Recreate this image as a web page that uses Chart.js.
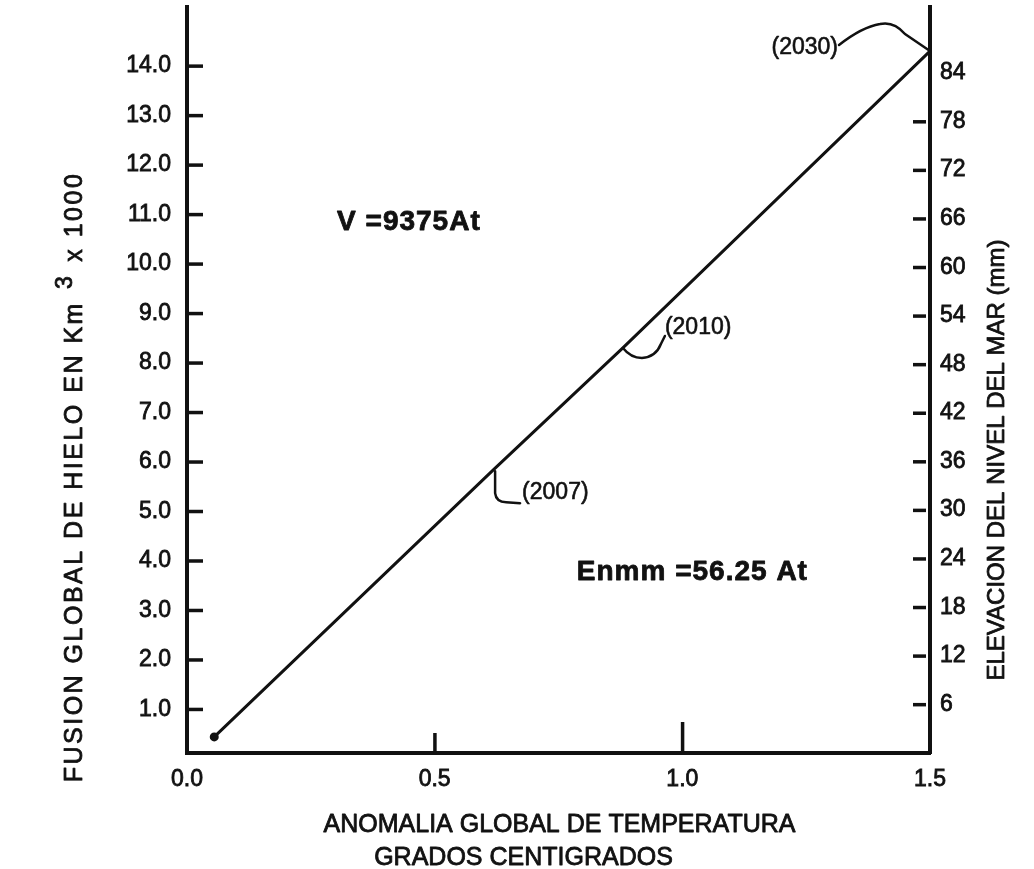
<!DOCTYPE html>
<html><head><meta charset="utf-8">
<script src="https://cdn.jsdelivr.net/npm/chart.js@4.4.1/dist/chart.umd.min.js"></script>
<style>html,body{margin:0;padding:0;background:#fff}#wrap{width:1034px;height:869px;position:relative}</style>
</head><body><div id="wrap"><canvas id="c" width="1034" height="869"></canvas></div>
<script>
// ---- data ----
const temperatureAnomaly = [0.055, 0.62, 0.88, 1.5];
const iceMelt = [0.44, 5.85, 8.3, 14.3];
const yearLabels = ['', '(2007)', '(2010)', '(2030)'];
const xTickValues = [0, 0.5, 1.0, 1.5];
const xTickLabels = ['0.0', '0.5', '1.0', '1.5'];
const leftTickValues = [1, 2, 3, 4, 5, 6, 7, 8, 9, 10, 11, 12, 13, 14];
const leftTickLabels = ['1.0', '2.0', '3.0', '4.0', '5.0', '6.0', '7.0', '8.0', '9.0', '10.0', '11.0', '12.0', '13.0', '14.0'];
const rightTickValues = [6, 12, 18, 24, 30, 36, 42, 48, 54, 60, 66, 72, 78, 84];
const rightTickLabels = ['6', '12', '18', '24', '30', '36', '42', '48', '54', '60', '66', '72', '78', '84'];
const xTitleLines = ['ANOMALIA GLOBAL DE TEMPERATURA', 'GRADOS CENTIGRADOS'];
const leftTitleParts = ['FUSION GLOBAL DE HIELO EN Km', '3', 'x 1000'];
const rightTitle = 'ELEVACION DEL NIVEL DEL MAR (mm)';
const equationVolume = 'V =9375At';
const equationLevel = 'Enmm =56.25 At';

const FONT = '"Liberation Sans", Arial, sans-serif';
const INK = '#111';

const points = temperatureAnomaly.map((t, i) => ({x: t, y: iceMelt[i]}));

function heavyText(ctx, s, x, y, w) {
  ctx.lineWidth = w;
  ctx.strokeText(s, x, y);
  ctx.fillText(s, x, y);
}

const decor = {
  id: 'decor',
  afterDraw(chart) {
    const ctx = chart.ctx;
    const {x, y, y2} = chart.scales;
    const area = chart.chartArea;
    ctx.save();
    ctx.fillStyle = INK; ctx.strokeStyle = INK;
    // inward tick marks
    y.ticks.forEach(t => { const py = y.getPixelForValue(t.value); ctx.fillRect(area.left + 1, py - 1.5, 15, 3.5); });
    y2.ticks.forEach((t, i) => { if (i === y2.ticks.length - 1) return; const py = y2.getPixelForValue(t.value); ctx.fillRect(area.right - 17, py - 1.5, 13, 3.5); });
    const xLen = {0.5: 20, 1: 31};
    x.ticks.forEach(t => { const len = xLen[t.value]; if (!len) return; const px = x.getPixelForValue(t.value); ctx.fillRect(px - 1.5, area.bottom - len, 3.5, len); });

    // year call-outs
    const pts = chart.getDatasetMeta(0).data;
    ctx.lineWidth = 2.5; ctx.lineCap = 'round'; ctx.lineJoin = 'round';
    ctx.textBaseline = 'middle';
    let p = pts[1];
    ctx.beginPath(); ctx.moveTo(p.x + 1, p.y + 2); ctx.lineTo(p.x + 1, p.y + 24);
    ctx.quadraticCurveTo(p.x + 2, p.y + 33, p.x + 12, p.y + 33); ctx.lineTo(p.x + 26, p.y + 34); ctx.stroke();
    p = pts[2];
    ctx.beginPath(); ctx.moveTo(p.x, p.y);
    ctx.quadraticCurveTo(p.x + 8, p.y + 10, p.x + 19, p.y + 10);
    ctx.quadraticCurveTo(p.x + 33, p.y + 9, p.x + 38, p.y - 4); ctx.lineTo(p.x + 42, p.y - 12); ctx.stroke();
    p = pts[3];
    ctx.beginPath(); ctx.moveTo(p.x - 91, p.y - 6);
    ctx.quadraticCurveTo(p.x - 68, p.y - 24, p.x - 50, p.y - 27);
    ctx.quadraticCurveTo(p.x - 36, p.y - 30, p.x - 25, p.y - 17); ctx.lineTo(p.x, p.y); ctx.stroke();

    ctx.font = '23px ' + FONT;
    ctx.textAlign = 'left';
    heavyText(ctx, yearLabels[1], pts[1].x + 28, pts[1].y + 23, 0.6);
    heavyText(ctx, yearLabels[2], pts[2].x + 42, pts[2].y - 20, 0.6);
    ctx.textAlign = 'right';
    heavyText(ctx, yearLabels[3], pts[3].x - 92, pts[3].y - 3, 0.6);

    // equations
    ctx.font = 'bold 28px ' + FONT; ctx.textAlign = 'left';
    if ('letterSpacing' in ctx) ctx.letterSpacing = '1px';
    heavyText(ctx, equationVolume, x.getPixelForValue(0.303), y.getPixelForValue(10.84), 0.8);
    heavyText(ctx, equationLevel, x.getPixelForValue(0.787), y.getPixelForValue(3.76), 0.8);
    if ('letterSpacing' in ctx) ctx.letterSpacing = '0px';

    // x axis title
    const cx = (area.left + area.right) / 2;
    ctx.font = '25px ' + FONT; ctx.textAlign = 'center';
    heavyText(ctx, xTitleLines[0], cx + 1, area.bottom + 72, 0.8);
    heavyText(ctx, xTitleLines[1], cx - 35, area.bottom + 105, 0.8);

    // right axis title
    ctx.save();
    ctx.translate(area.right + 67, (area.top + area.bottom) / 2 + 80);
    ctx.rotate(-Math.PI / 2);
    ctx.font = '24px ' + FONT; ctx.textAlign = 'center';
    heavyText(ctx, rightTitle, 0, 0, 0.8);
    ctx.restore();

    // left axis title with superscript
    ctx.save();
    ctx.translate(75, (area.top + area.bottom) / 2 + 97);
    ctx.rotate(-Math.PI / 2);
    ctx.textAlign = 'left';
    if ('letterSpacing' in ctx) ctx.letterSpacing = '2.5px';
    ctx.font = '25px ' + FONT; const wa = ctx.measureText(leftTitleParts[0]).width;
    const wb = ctx.measureText(leftTitleParts[2]).width;
    ctx.font = '23px ' + FONT; const ws = ctx.measureText(leftTitleParts[1]).width;
    const gap = 12;
    let sx = -(wa + gap + ws + gap + wb) / 2;
    ctx.font = '25px ' + FONT; heavyText(ctx, leftTitleParts[0], sx, 0, 0.8); sx += wa + gap;
    ctx.font = '23px ' + FONT; heavyText(ctx, leftTitleParts[1], sx, -9, 0.8); sx += ws + gap;
    ctx.font = '25px ' + FONT; heavyText(ctx, leftTitleParts[2], sx, 0, 0.8);
    if ('letterSpacing' in ctx) ctx.letterSpacing = '0px';
    ctx.restore();

    ctx.restore();
  }
};

const tickFont = {family: FONT, size: 23};
const tickBase = {font: tickFont, color: INK, autoSkip: false, textStrokeColor: INK, textStrokeWidth: 0.8};
new Chart(document.getElementById('c'), {
  type: 'line',
  data: {
    datasets: [{
      data: points,
      yAxisID: 'y',
      borderColor: INK,
      borderWidth: 3,
      pointRadius: [3, 0, 0, 0],
      pointBackgroundColor: INK,
      pointBorderColor: INK,
      tension: 0,
      fill: false
    }]
  },
  options: {
    responsive: false,
    animation: false,
    devicePixelRatio: 1,
    layout: {padding: {top: 4, left: 0, right: 0, bottom: 0}},
    plugins: {legend: {display: false}, tooltip: {enabled: false}},
    scales: {
      x: {
        type: 'linear', position: 'bottom', min: 0, max: 1.5,
        afterBuildTicks: s => { s.ticks = xTickValues.map(v => ({value: v})); },
        afterFit: s => { s.height = 116; s.paddingLeft = 0; s.paddingRight = 0; },
        ticks: Object.assign({callback: (v, i) => xTickLabels[i], padding: 13, maxRotation: 0}, tickBase),
        grid: {color: 'rgba(0,0,0,0)', drawTicks: false},
        border: {color: INK, width: 4}
      },
      y: {
        type: 'linear', position: 'left', min: 0.115, max: 15.19,
        afterBuildTicks: s => { s.ticks = leftTickValues.map(v => ({value: v})); },
        afterFit: s => { s.width = 187; s.paddingTop = 0; s.paddingBottom = 0; },
        ticks: Object.assign({callback: (v, i) => leftTickLabels[i], padding: 16}, tickBase),
        grid: {color: 'rgba(0,0,0,0)', drawTicks: false},
        border: {color: INK, width: 4}
      },
      y2: {
        type: 'linear', position: 'right', min: 0, max: 92.15,
        afterBuildTicks: s => { s.ticks = rightTickValues.map(v => ({value: v})); },
        afterFit: s => { s.width = 104; s.paddingTop = 0; s.paddingBottom = 0; },
        ticks: Object.assign({callback: (v, i) => rightTickLabels[i], padding: 10}, tickBase),
        grid: {color: 'rgba(0,0,0,0)', drawTicks: false},
        border: {color: INK, width: 4}
      }
    }
  },
  plugins: [decor]
});
</script>
</body></html>
